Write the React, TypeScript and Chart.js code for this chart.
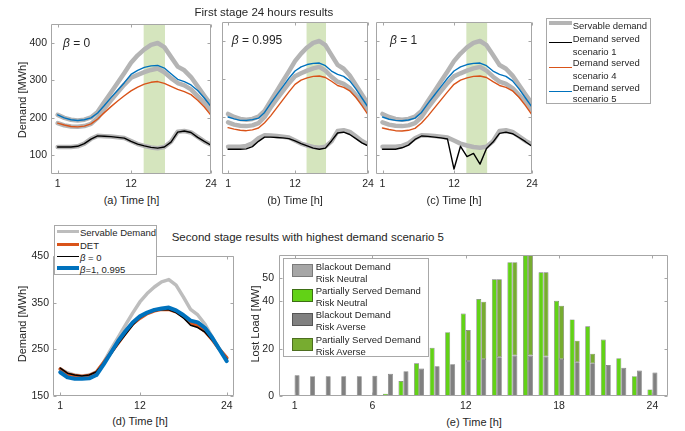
import React, { useEffect, useRef } from 'react';
import { Chart, registerables } from 'chart.js';

Chart.register(...registerables);

const FONT = "'Liberation Sans', Arial, Helvetica, sans-serif";
const TXT = '#262626';
const FRAME = '#a6a6a6';
const BAND = 'rgb(213,229,190)';
const GRAY = '#b4b4b4';
const GRAY_D = '#bdbdbd';
const BLUE = '#0072bd';
const RED = '#d95319';
const BLACK = '#000000';
const GREEN = 'rgb(98,210,22)';
const OLIVE = 'rgb(119,172,48)';
const DGRAY = 'rgb(128,128,128)';
const LGRAY = 'rgb(166,166,166)';

// ---------- data ----------
const HOURS = [1, 2, 3, 4, 5, 6, 7, 8, 9, 10, 11, 12, 13, 14, 15, 16, 17, 18, 19, 20, 21, 22, 23, 24];
const TIME_TICKS = [1, 12, 24];
const LOST_TIME_TICKS = [1, 6, 12, 18, 24];
const DEMAND_TICKS = [100, 200, 300, 400];
const DEMAND_TICKS_D = [150, 250, 350, 450];
const LOST_TICKS = [0, 20, 40, 50];
const PEAK_WINDOW = [13.9, 17.1];

// servable demand (first stage)
const SERVABLE_S5 = [208, 200, 195, 193, 195, 201, 216, 242, 268, 294, 320, 347, 367, 383, 395, 400, 389, 363, 337, 327, 309, 284, 259, 235];
const SERVABLE_S4 = [186, 180, 177, 176, 178, 184, 200, 225, 247, 268, 289, 307, 315, 322, 328, 332, 322, 306, 293, 287, 276, 258, 240, 219];
const SERVABLE_S1 = [122, 122, 122, 124, 131, 144, 152, 151, 150, 148, 146, 138, 130, 125, 121, 119, 122, 136, 163, 165, 161, 149, 137, 128];

// (a) beta = 0
const A_S1 = [122, 122, 122, 124, 131, 143, 152, 151, 150, 148, 146, 137, 130, 125, 121, 119, 122, 135, 162, 165, 161, 148, 137, 127];
const A_S4 = [186, 181, 177, 176, 178, 184, 197, 214, 230, 245, 259, 272, 282, 290, 295, 297, 292, 284, 276, 270, 262, 247, 229, 207];
const A_S5 = [208, 200, 195, 193, 195, 200, 213, 233, 254, 274, 294, 316, 327, 335, 339, 340, 333, 318, 303, 297, 288, 273, 253, 230];

// (b) beta = 0.995
const B_S1 = [115, 115, 115, 116, 122, 136, 147, 147, 146, 145, 143, 137, 130, 124, 118, 115, 118, 137, 158, 160, 154, 143, 132, 124];
const B_S4 = [172, 168, 165, 164, 166, 171, 185, 203, 224, 245, 266, 286, 297, 303, 307, 308, 304, 294, 283, 278, 269, 252, 230, 206];
const B_S5 = [200, 195, 191, 191, 193, 197, 212, 236, 258, 280, 302, 321, 332, 338, 341, 342, 335, 321, 312, 307, 295, 274, 250, 226];

// (c) beta = 1
const C_S1 = [115, 115, 115, 119, 126, 141, 150, 149, 147, 145, 142, 63, 123, 96, 104, 76, 117, 134, 157, 160, 156, 146, 135, 123];
const C_S4 = [171, 167, 164, 163, 165, 170, 184, 203, 224, 245, 266, 286, 297, 303, 307, 308, 304, 293, 283, 278, 269, 252, 230, 206];
const C_S5 = [200, 194, 191, 190, 192, 197, 212, 236, 258, 280, 302, 321, 332, 338, 341, 342, 335, 321, 312, 307, 295, 274, 250, 226];

// (d) second stage, scenario 5
const D_SERVABLE = [208, 200, 195, 193, 195, 202, 222, 250, 276, 302, 328, 352, 370, 384, 395, 400, 388, 363, 336, 324, 304, 276, 250, 232];
const D_DET = [208, 197, 194, 192, 194, 201, 222, 243, 264, 285, 305, 317, 327, 333, 336, 336, 331, 321, 307, 300, 289, 271, 250, 232];
const D_BETA0 = [210, 199, 195, 193, 195, 202, 221, 240, 262, 282, 302, 318, 328, 333, 335, 335, 329, 318, 302, 297, 287, 270, 250, 230];
const D_BETA1 = [201, 190, 187, 187, 188, 195, 218, 243, 268, 289, 308, 321, 329, 335, 338, 340, 334, 324, 312, 308, 296, 275, 250, 225];

// (e) lost load [MW]
const E_NEUTRAL_BLACKOUT = [0, 0, 0, 0, 0, 0, 0, 0, 0, 0, 0, 0, 0, 0, 0, 0, 0, 0, 0, 0, 0, 0, 0, 0];
const E_NEUTRAL_PARTIAL = [0, 0, 0, 0, 0, 0, 1.0, 6.3, 13.8, 20.4, 27.0, 34.9, 41.0, 49.4, 56.6, 60, 52.3, 40.3, 32.4, 29.5, 23.9, 16.0, 8.4, 2.8];
const E_AVERSE_BLACKOUT = [8.8, 8.4, 8.3, 8.3, 8.3, 8.6, 9.4, 10.5, 11.6, 12.6, 13.4, 14.8, 15.6, 16.4, 17.1, 17.1, 16.7, 15.6, 14.3, 13.8, 13.1, 11.9, 10.8, 9.9];
const E_AVERSE_PARTIAL = [0, 0, 0, 0, 0, 0, 0, 0, 0, 0, 0, 13.1, 24.3, 33.0, 39.5, 43, 35.6, 22.6, 9.1, 4.1, 0, 0, 0, 0];

// ---------- layout ----------
type Box = { L: number; T: number; R: number; B: number };
const BOX_A: Box = { L: 51, T: 22, R: 211, B: 174 };
const BOX_B: Box = { L: 222, T: 22, R: 368, B: 174 };
const BOX_C: Box = { L: 376, T: 22, R: 532, B: 174 };
const BOX_D: Box = { L: 53, T: 254, R: 234, B: 396 };
const BOX_E: Box = { L: 279, T: 252, R: 668, B: 396 };
const YW = 30, XH = 18, PT = 8, PR = 10;
const TICK_SIZE = 10.5;
const LABEL_SIZE = 11;
const TITLE_SIZE = 11.5;
const LEG_SIZE = 9.5;

function canvasRect(b: Box) {
  return { x: b.L - YW, y: b.T - PT, w: YW + (b.R - b.L) + PR, h: PT + (b.B - b.T) + XH };
}

const framePlugin = {
  id: 'frame',
  beforeDatasetsDraw(chart: any, _a: any, opts: any) {
    if (!opts || !opts.band) return;
    const { ctx, chartArea: a, scales } = chart;
    const x0 = scales.x.getPixelForValue(opts.band[0]);
    const x1 = scales.x.getPixelForValue(opts.band[1]);
    ctx.save();
    ctx.fillStyle = BAND;
    ctx.fillRect(x0, a.top, x1 - x0, a.bottom - a.top);
    ctx.restore();
  },
  afterDraw(chart: any, _a: any, opts: any) {
    const { ctx, chartArea: a, scales } = chart;
    const x = scales.x, y = scales.y;
    ctx.save();
    ctx.strokeStyle = FRAME;
    ctx.lineWidth = 1;
    const l = Math.round(a.left) + 0.5, r = Math.round(a.right) - 0.5;
    const t = Math.round(a.top) + 0.5, b = Math.round(a.bottom) - 0.5;
    ctx.beginPath();
    ctx.rect(l, t, r - l, b - t);
    const tl = 3;
    (opts.xt || []).forEach((v: number) => {
      const p = Math.round(x.getPixelForValue(v)) + 0.5;
      ctx.moveTo(p, b); ctx.lineTo(p, b - tl);
      ctx.moveTo(p, t); ctx.lineTo(p, t + tl);
    });
    (opts.yt || []).forEach((v: number) => {
      const p = Math.round(y.getPixelForValue(v)) + 0.5;
      ctx.moveTo(l, p); ctx.lineTo(l + tl, p);
      ctx.moveTo(r, p); ctx.lineTo(r - tl, p);
    });
    ctx.stroke();
    ctx.restore();
  },
};
Chart.register(framePlugin as any);

function scales(xmin: number, xmax: number, xt: number[], ymin: number, ymax: number, yt: number[], showY: boolean, stacked = false, ypad = 4) {
  const tickFont = { family: FONT, size: TICK_SIZE };
  return {
    x: {
      type: 'linear', min: xmin, max: xmax, offset: false, stacked,
      grid: { display: false, offset: false, drawTicks: false }, border: { display: false },
      afterBuildTicks: (s: any) => { s.ticks = xt.map((v) => ({ value: v })); },
      afterFit: (s: any) => { s.height = XH; },
      ticks: { autoSkip: false, maxRotation: 0, padding: 4, color: TXT, font: tickFont },
    },
    y: {
      type: 'linear', min: ymin, max: ymax, stacked,
      grid: { display: false, drawTicks: false }, border: { display: false },
      afterBuildTicks: (s: any) => { s.ticks = yt.map((v) => ({ value: v })); },
      afterFit: (s: any) => { s.width = YW; },
      ticks: { display: showY, autoSkip: false, padding: ypad, color: TXT, font: tickFont },
    },
  };
}

function baseOptions(sc: any, frame: any) {
  return {
    responsive: false,
    maintainAspectRatio: false,
    animation: false,
    devicePixelRatio: 1,
    events: [],
    layout: { padding: { top: PT, right: PR, left: 0, bottom: 0 } },
    plugins: { legend: { display: false }, tooltip: { enabled: false }, title: { display: false }, frame },
    scales: sc,
  };
}

const line = (vals: number[], color: string, width: number, order: number) => ({
  data: HOURS.map((h, i) => ({ x: h, y: vals[i] })),
  borderColor: color,
  backgroundColor: color,
  borderWidth: width,
  pointRadius: 0,
  tension: 0,
  fill: false,
  order,
  borderJoinStyle: 'round',
  borderCapStyle: 'round',
});

function firstStageConfig(s1: number[], s4: number[], s5: number[], showY: boolean) {
  return {
    type: 'line',
    data: {
      datasets: [
        line(SERVABLE_S5, GRAY, 4.5, 10),
        line(SERVABLE_S4, GRAY, 4.5, 10),
        line(SERVABLE_S1, GRAY, 4.5, 10),
        line(s5, BLUE, 1.4, 2),
        line(s4, RED, 1.4, 2),
        line(s1, BLACK, 1.4, 1),
      ],
    },
    options: baseOptions(scales(0, 24, TIME_TICKS, 50, 450, DEMAND_TICKS, showY), { xt: TIME_TICKS, yt: DEMAND_TICKS, band: PEAK_WINDOW }),
  };
}

function secondStageConfig() {
  return {
    type: 'line',
    data: {
      datasets: [
        line(D_SERVABLE, GRAY_D, 3.5, 10),
        line(D_DET, RED, 3.5, 3),
        line(D_BETA0, BLACK, 1.5, 2),
        line(D_BETA1, BLUE, 4, 1),
      ],
    },
    options: baseOptions(scales(0, 25, TIME_TICKS, 150, 450, DEMAND_TICKS_D, true), { xt: TIME_TICKS, yt: DEMAND_TICKS_D }),
  };
}

const bar = (vals: number[], color: string, stack: string, bw: number) => ({
  type: 'bar',
  data: HOURS.map((h, i) => ({ x: h, y: vals[i] })),
  backgroundColor: color,
  borderColor: 'rgba(0,0,0,0.55)',
  borderWidth: bw,
  borderSkipped: false,
  stack,
  barPercentage: 1,
  categoryPercentage: 0.64,
});

function lostLoadConfig() {
  return {
    type: 'bar',
    data: {
      datasets: [
        bar(E_NEUTRAL_BLACKOUT, LGRAY, 'neutral', 0),
        bar(E_NEUTRAL_PARTIAL, GREEN, 'neutral', 0.7),
        bar(E_AVERSE_BLACKOUT, DGRAY, 'averse', 0.7),
        bar(E_AVERSE_PARTIAL, OLIVE, 'averse', 0.7),
      ],
    },
    options: baseOptions(scales(0, 25, LOST_TIME_TICKS, 0, 59.5, LOST_TICKS, true, true, 5), { xt: LOST_TIME_TICKS, yt: LOST_TICKS }),
  };
}

function ChartBox({ box, make }: { box: Box; make: () => any }) {
  const ref = useRef<HTMLCanvasElement>(null);
  const r = canvasRect(box);
  useEffect(() => {
    const c = new Chart(ref.current as HTMLCanvasElement, make());
    return () => c.destroy();
  }, []);
  return (
    <canvas
      ref={ref}
      width={r.w}
      height={r.h}
      style={{ position: 'absolute', left: r.x, top: r.y, width: r.w, height: r.h, display: 'block' }}
    />
  );
}

function Txt({ x, y, s = LABEL_SIZE, a = 'left', rot = false, children }: any) {
  const lh = Math.round(s * 1.2);
  let transform = 'translateY(-50%)';
  if (rot) transform = 'translate(-50%,-50%) rotate(-90deg)';
  else if (a === 'center') transform = 'translate(-50%,-50%)';
  return (
    <div
      style={{
        position: 'absolute', left: x, top: y, fontSize: s, lineHeight: lh + 'px', whiteSpace: 'nowrap',
        transform, color: TXT, fontFamily: FONT,
      }}
    >
      {children}
    </div>
  );
}

function Seg({ x1, x2, y, w, c }: any) {
  return <div style={{ position: 'absolute', left: x1, top: y - w / 2, width: x2 - x1, height: w, background: c }} />;
}

function Rect({ x, y, w, h, bg, border }: any) {
  return <div style={{ position: 'absolute', left: x, top: y, width: w, height: h, background: bg, border, boxSizing: 'border-box' }} />;
}

const B = ({ children }: any) => <span style={{ fontStyle: 'italic' }}>{children}</span>;

export default function App() {
  return (
    <div style={{ position: 'absolute', left: 0, top: 0, width: 685, height: 431, background: '#fff', overflow: 'hidden', fontFamily: FONT, color: TXT }}>
      <ChartBox box={BOX_A} make={() => firstStageConfig(A_S1, A_S4, A_S5, true)} />
      <ChartBox box={BOX_B} make={() => firstStageConfig(B_S1, B_S4, B_S5, false)} />
      <ChartBox box={BOX_C} make={() => firstStageConfig(C_S1, C_S4, C_S5, false)} />
      <ChartBox box={BOX_D} make={secondStageConfig} />
      <ChartBox box={BOX_E} make={lostLoadConfig} />

      {/* titles */}
      <Txt x={194.5} y={11.7} s={TITLE_SIZE}>First stage 24 hours results</Txt>
      <Txt x={171.7} y={237.3} s={TITLE_SIZE}>Second stage results with highest demand scenario 5</Txt>

      {/* beta labels */}
      <Txt x={63} y={43} s={12}><B>β</B> = 0</Txt>
      <Txt x={231.7} y={40} s={12}><B>β</B> = 0.995</Txt>
      <Txt x={390} y={40} s={12}><B>β</B> = 1</Txt>

      {/* axis titles */}
      <Txt x={21.7} y={100} rot>Demand [MWh]</Txt>
      <Txt x={21.7} y={324} rot>Demand [MWh]</Txt>
      <Txt x={255} y={324} rot>Lost Load [MW]</Txt>
      <Txt x={131.5} y={200} a="center">(a) Time [h]</Txt>
      <Txt x={295} y={200} a="center">(b) Time [h]</Txt>
      <Txt x={454} y={200} a="center">(c) Time [h]</Txt>
      <Txt x={140} y={421} a="center">(d) Time [h]</Txt>
      <Txt x={474} y={421.5} a="center">(e) Time [h]</Txt>

      {/* first stage legend */}
      <Rect x={545.5} y={18} w={105.5} h={86} bg="#fff" border="1px solid #a8a8a8" />
      <Seg x1={549} x2={572} y={23.3} w={4} c={GRAY} />
      <Txt x={572.7} y={25} s={LEG_SIZE}>Servable demand</Txt>
      <Seg x1={549} x2={572} y={42.7} w={1.5} c={BLACK} />
      <Txt x={572.7} y={38.3} s={LEG_SIZE}>Demand served</Txt>
      <Txt x={572.7} y={51} s={LEG_SIZE}>scenario 1</Txt>
      <Seg x1={549} x2={572} y={67.7} w={1.4} c={RED} />
      <Txt x={572.7} y={62.3} s={LEG_SIZE}>Demand served</Txt>
      <Txt x={572.7} y={74.7} s={LEG_SIZE}>scenario 4</Txt>
      <Seg x1={549} x2={572} y={91.7} w={1.4} c={BLUE} />
      <Txt x={572.7} y={86.7} s={LEG_SIZE}>Demand served</Txt>
      <Txt x={572.7} y={98} s={LEG_SIZE}>scenario 5</Txt>

      {/* second stage legend */}
      <Rect x={54.3} y={225} w={103} h={49.5} bg="#fff" border="1px solid #a8a8a8" />
      <Seg x1={57.3} x2={79.3} y={231.7} w={3.5} c={GRAY_D} />
      <Txt x={80} y={232.3} s={LEG_SIZE}>Servable Demand</Txt>
      <Seg x1={57.3} x2={79.3} y={244.3} w={3.5} c={RED} />
      <Txt x={80} y={245} s={LEG_SIZE}>DET</Txt>
      <Seg x1={57.3} x2={79.3} y={256.7} w={1.5} c={BLACK} />
      <Txt x={80} y={257.3} s={LEG_SIZE}><B>β</B> = 0</Txt>
      <Seg x1={57.3} x2={79.3} y={268.3} w={4} c={BLUE} />
      <Txt x={80} y={269} s={LEG_SIZE}><B>β</B>=1, 0.995</Txt>

      {/* lost load legend */}
      <Rect x={283.3} y={258.3} w={145.7} h={99} bg="#fff" border="1px solid #a8a8a8" />
      <Rect x={291.7} y={264.3} w={21.6} h={13} bg={LGRAY} border="1px solid #7a7a7a" />
      <Txt x={315.7} y={265.7} s={LEG_SIZE}>Blackout Demand</Txt>
      <Txt x={315.7} y={277.7} s={LEG_SIZE}>Risk Neutral</Txt>
      <Rect x={291.7} y={288.7} w={21.6} h={13.3} bg={GREEN} border="1px solid #3d6e14" />
      <Txt x={315.7} y={290} s={LEG_SIZE}>Partially Served Demand</Txt>
      <Txt x={315.7} y={302} s={LEG_SIZE}>Risk Neutral</Txt>
      <Rect x={291.7} y={313.3} w={21.6} h={13} bg={DGRAY} border="1px solid #555" />
      <Txt x={315.7} y={314.3} s={LEG_SIZE}>Blackout Demand</Txt>
      <Txt x={315.7} y={326.3} s={LEG_SIZE}>Risk Averse</Txt>
      <Rect x={291.7} y={337.7} w={21.6} h={13} bg={OLIVE} border="1px solid #4d6e20" />
      <Txt x={315.7} y={338.7} s={LEG_SIZE}>Partially Served Demand</Txt>
      <Txt x={315.7} y={350.7} s={LEG_SIZE}>Risk Averse</Txt>
    </div>
  );
}
